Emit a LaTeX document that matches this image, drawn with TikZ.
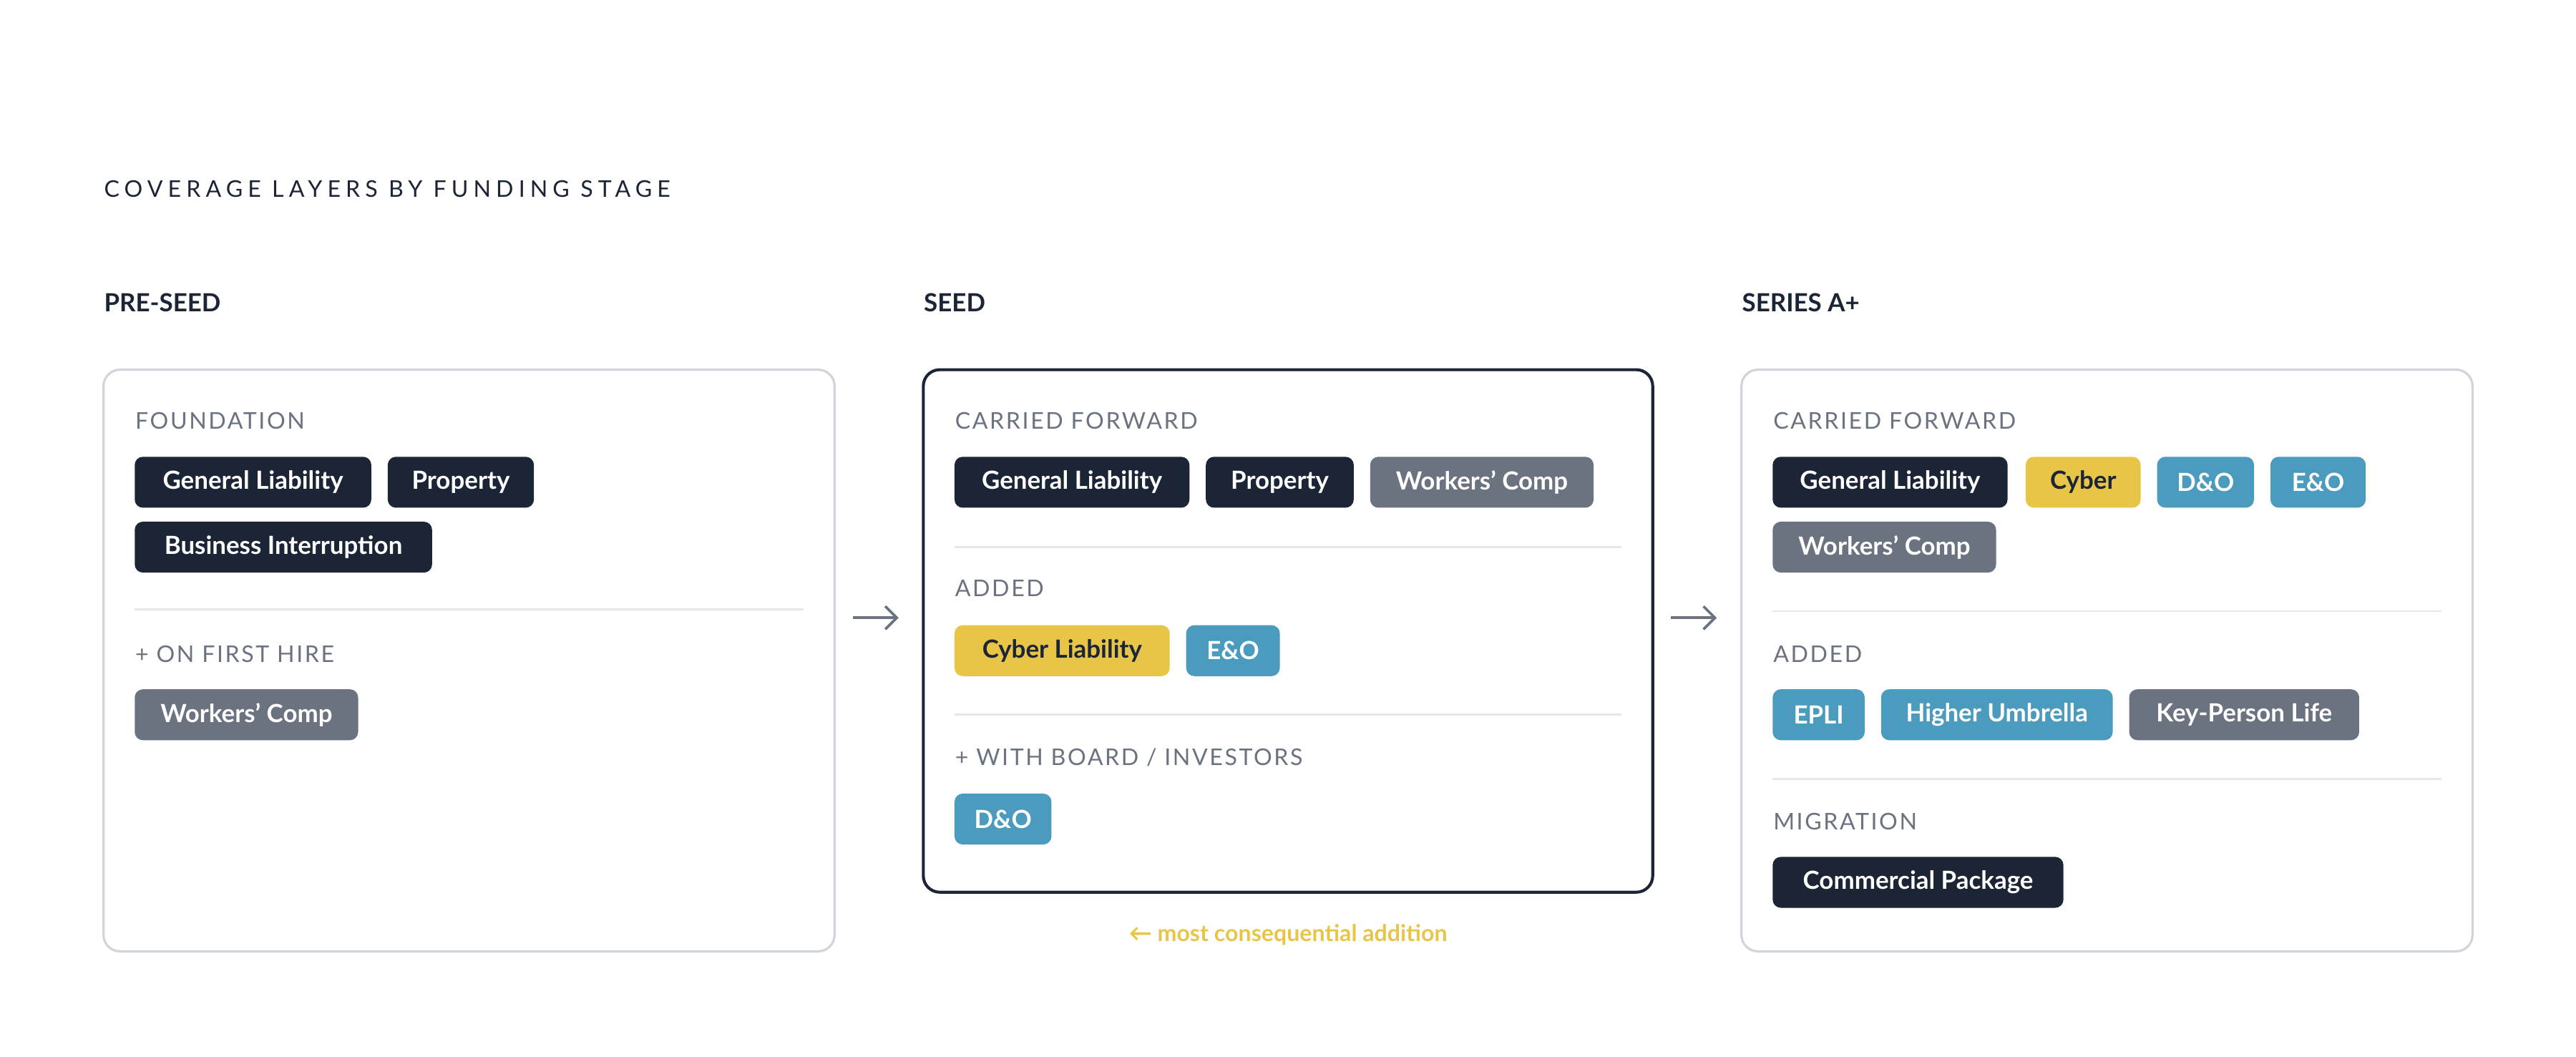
\documentclass[tikz,border=0pt]{standalone}
\usepackage{fontspec}
\setmainfont{Lato}
\newfontfamily\spacedfont[LetterSpace=8]{Lato}
\newfontfamily\titlefont[LetterSpace=22]{Lato}
\usetikzlibrary{positioning,arrows.meta}
\definecolor{navy}{HTML}{1B2535}
\definecolor{slate}{HTML}{6B7280}
\definecolor{gold}{HTML}{E8C547}
\definecolor{teal}{HTML}{4A9BBD}
\definecolor{rim}{HTML}{D1D5DB}
\definecolor{rule}{HTML}{E5E7EB}
\tikzset{
  panel/.style={draw=rim, line width=0.7pt, rounded corners=5pt, fill=white},
  tag/.style={text=white, rounded corners=2.5pt, minimum height=15.5pt, inner sep=0pt, font=\fontsize{7.6}{9}\selectfont\bfseries},
  darktag/.style={tag, fill=navy},
  greytag/.style={tag, fill=slate},
  goldtag/.style={tag, fill=gold, text=navy},
  tealtag/.style={tag, fill=teal},
  sect/.style={anchor=west, inner sep=0pt, text=slate, font=\fontsize{7}{8}\selectfont\spacedfont},
  stage/.style={anchor=west, inner sep=0pt, text=navy, font=\fontsize{7.6}{9}\selectfont\bfseries},
  divider/.style={draw=rule, line width=0.6pt},
  stagearrow/.style={->, draw=slate, line width=0.8pt, >={Straight Barb[length=3.5pt,width=7pt]}}
}
\begin{document}
\begin{tikzpicture}[x=0.5pt,y=-0.5pt]
\useasboundingbox (0,0) rectangle (1568,643);

\node[anchor=west, inner sep=0pt, text=navy, font=\fontsize{7}{8}\selectfont\titlefont] (title) at (63,115) {COVERAGE LAYERS BY FUNDING STAGE};

\node[stage] (pre) at (63,184) {PRE-SEED};
\node[stage] (seed) at (562,184) {SEED};
\node[stage] (sera) at (1060,184) {SERIES A+};

% panels
\draw[panel] (63,225) rectangle (508,579);
\draw[panel, draw=navy, line width=0.9pt] (562,225) rectangle (1006,543);
\draw[panel] (1060,225) rectangle (1505,579);
\coordinate (p1e) at (508,376); \coordinate (p2w) at (562,376);
\coordinate (p2e) at (1006,376); \coordinate (p3w) at (1060,376);

% pre-seed
\node[sect] (found) at (82,256) {FOUNDATION};
\node[darktag, minimum width=72pt] (gl1) at (154,293.5) {General Liability};
\node[darktag, minimum width=44.5pt] (pr1) at (280.5,293.5) {Property};
\node[darktag, minimum width=90.5pt] (bi1) at (172.5,333) {Business Interruption};
\draw[divider] (82,371) -- (489,371);
\node[sect] (hire) at (82,398) {+ ON FIRST HIRE};
\node[greytag, minimum width=68pt] (wc1) at (150,435) {Workers' Comp};

% seed
\node[sect] (cf2) at (581,256) {CARRIED FORWARD};
\node[darktag, minimum width=71.5pt] (gl2) at (652.5,293.5) {General Liability};
\node[darktag, minimum width=45pt] (pr2) at (779,293.5) {Property};
\node[greytag, minimum width=68pt] (wc2) at (902,293.5) {Workers' Comp};
\draw[divider] (581,333) -- (987,333);
\node[sect] (add2) at (581,358) {ADDED};
\node[goldtag, minimum width=65.5pt] (cy2) at (646.5,396) {Cyber Liability};
\node[tealtag, minimum width=28.5pt] (eo2) at (750.5,396) {E\&O};
\draw[divider] (581,435) -- (987,435);
\node[sect] (board) at (581,461) {+ WITH BOARD / INVESTORS};
\node[tealtag, minimum width=29.5pt] (do2) at (610.5,498.5) {D\&O};
\node[text=gold, font=\fontsize{7}{8}\selectfont\bfseries] (note) at (784,569) {← most consequential addition};

% series a+
\node[sect] (cf3) at (1079,256) {CARRIED FORWARD};
\node[darktag, minimum width=71.5pt] (gl3) at (1150.5,293.5) {General Liability};
\node[goldtag, minimum width=35pt] (cy3) at (1268,293.5) {Cyber};
\node[tealtag, minimum width=29.5pt] (do3) at (1342.5,293.5) {D\&O};
\node[tealtag, minimum width=29pt] (eo3) at (1411,293.5) {E\&O};
\node[greytag, minimum width=68pt] (wc3) at (1147,333) {Workers' Comp};
\draw[divider] (1079,372) -- (1486,372);
\node[sect] (add3) at (1079,398) {ADDED};
\node[tealtag, minimum width=28pt] (epli) at (1107,435) {EPLI};
\node[tealtag, minimum width=70.5pt] (umb) at (1215.5,435) {Higher Umbrella};
\node[greytag, minimum width=70pt] (kpl) at (1366,435) {Key-Person Life};
\draw[divider] (1079,474) -- (1486,474);
\node[sect] (mig) at (1079,500) {MIGRATION};
\node[darktag, minimum width=88.5pt] (pkg) at (1167.5,537) {Commercial Package};

% stage arrows
\draw[stagearrow, shorten <=5.5pt, shorten >=7.5pt] (p1e) -- (p2w);
\draw[stagearrow, shorten <=5.5pt, shorten >=7.5pt] (p2e) -- (p3w);
\end{tikzpicture}
\end{document}
